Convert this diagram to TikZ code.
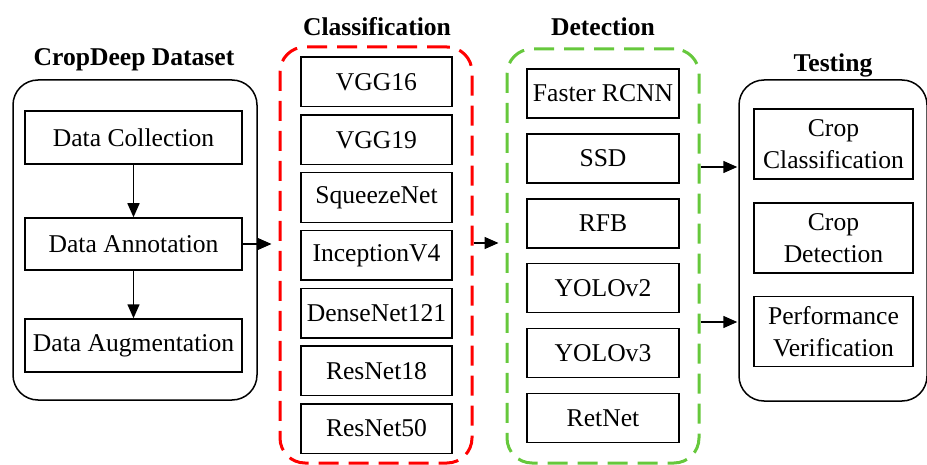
\documentclass[tikz,border=0pt]{standalone}
\usepackage{fontspec}
\setmainfont{Liberation Serif}
\usetikzlibrary{arrows.meta}
\definecolor{dgreen}{RGB}{102,200,60}
\begin{document}
\begin{tikzpicture}[x=0.5pt,y=-0.5pt,
  font=\fontsize{12.8}{16}\selectfont,
  bx/.style={draw,line width=0.75pt,inner sep=0pt,align=center},
  outerbox/.style={draw,line width=0.75pt,rounded corners=12.5pt,inner sep=0pt},
  dashbox/.style={draw,line width=1.5pt,rounded corners=12.5pt,inner sep=0pt,dash pattern=on 10pt off 5pt},
  ttl/.style={font=\fontsize{12.8}{16}\selectfont\bfseries},
  arr/.style={-{Triangle[length=7pt,width=6pt]},line width=0.75pt}]
\useasboundingbox (0,0) rectangle (927,465);
% outer containers
\node[outerbox,minimum width=122pt,minimum height=160pt] (ds) at (135,240) {};
\node[dashbox,red,minimum width=96pt,minimum height=208pt] (cls) at (376,255) {};
\node[dashbox,dgreen,minimum width=96pt,minimum height=207pt] (det) at (603,256) {};
\node[outerbox,minimum width=94pt,minimum height=160.5pt] (tst) at (833,240.5) {};
% titles
\node[ttl] (t1) at (134,60) {CropDeep Dataset};
\node[ttl] (t2) at (377,27) {Classification};
\node[ttl] (t3) at (603,27) {Detection};
\node[ttl] (t4) at (833,65) {Testing};
% dataset
\node[bx,minimum width=108.5pt,minimum height=26.5pt] (dc) at (133.5,137.5) {Data Collection};
\node[bx,minimum width=108.5pt,minimum height=26pt] (da) at (133.5,244) {Data Annotation};
\node[bx,minimum width=108.5pt,minimum height=26.5pt] (dg) at (133.5,345.5) {Data Augmentation};
\draw[arr] (dc.south) -- (da.north);
\draw[arr] (da.south) -- (dg.north);
% classification
\foreach \t [count=\i] in {VGG16,VGG19,SqueezeNet,InceptionV4,DenseNet121,ResNet18,ResNet50}
  \node[bx,minimum width=75.5pt,minimum height=24.75pt] (c\i) at (376.5,{82+(\i-1)*57.75}) {\t};
% detection
\foreach \t [count=\i] in {Faster RCNN,SSD,RFB,YOLOv2,YOLOv3,RetNet}
  \node[bx,minimum width=76pt,minimum height=24.5pt] (d\i) at (603,{93.5+(\i-1)*64.9}) {\t};
% testing
\node[bx,minimum width=79.5pt,minimum height=35pt] (s1) at (833.5,144) {Crop\\Classification};
\node[bx,minimum width=79.5pt,minimum height=35pt] (s2) at (833.5,238) {Crop\\Detection};
\node[bx,minimum width=79.5pt,minimum height=35pt] (s3) at (833.5,331.5) {Performance\\Verification};
% connectors
\coordinate (y2) at (0,243);
\coordinate (y3) at (0,167);
\coordinate (y4) at (0,322);
\draw[arr] (da.east) -- ([xshift=-3.5pt]da.east -| cls.west);
\draw[arr] (cls.east |- y2) -- ([xshift=-3.5pt]det.west |- y2);
\draw[arr] (det.east |- y3) -- ([xshift=-0.5pt]tst.west |- y3);
\draw[arr] (det.east |- y4) -- ([xshift=-0.5pt]tst.west |- y4);
\end{tikzpicture}
\end{document}
